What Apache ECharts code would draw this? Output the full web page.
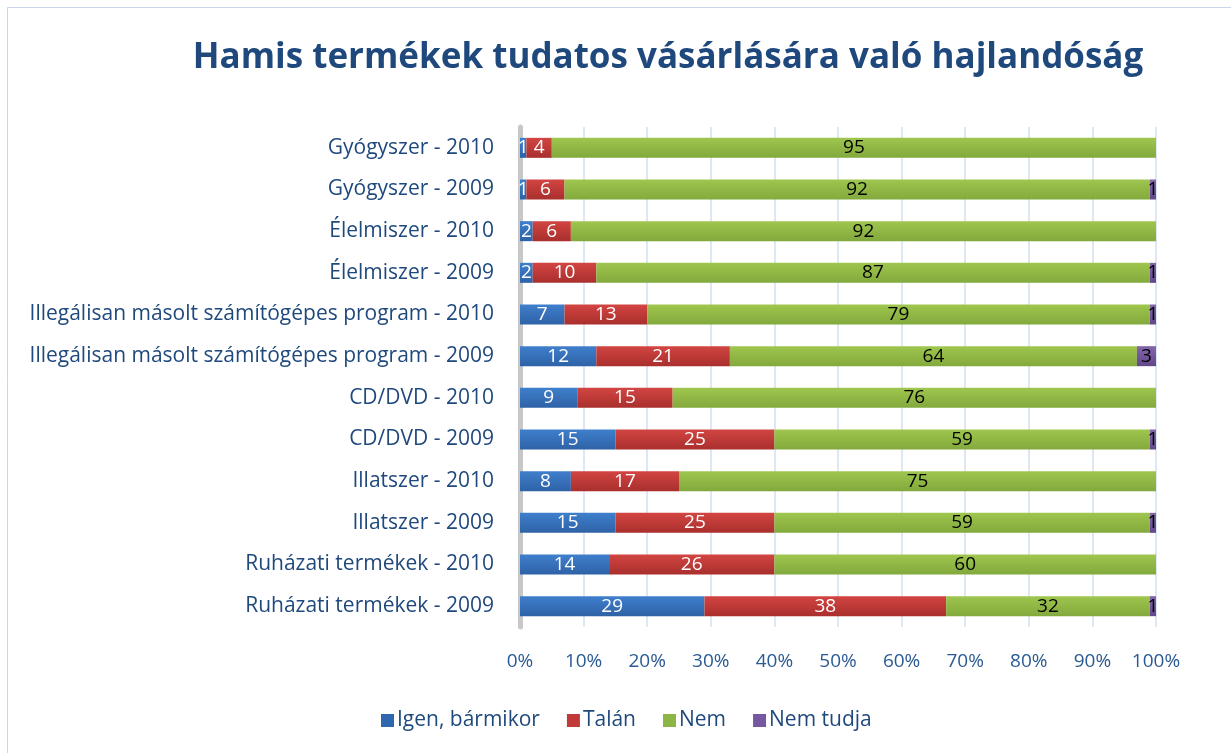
<!DOCTYPE html>
<html>
<head>
<meta charset="utf-8">
<script src="https://cdn.jsdelivr.net/npm/echarts@6/dist/echarts.min.js"></script>
<style>html,body{margin:0;padding:0;background:#fff}#c{width:1231px;height:753px}</style>
</head>
<body>
<div id="c"></div>
<script>
const categories = [
  'Ruházati termékek - 2009',
  'Ruházati termékek - 2010',
  'Illatszer - 2009',
  'Illatszer - 2010',
  'CD/DVD - 2009',
  'CD/DVD - 2010',
  'Illegálisan másolt számítógépes program - 2009',
  'Illegálisan másolt számítógépes program - 2010',
  'Élelmiszer - 2009',
  'Élelmiszer - 2010',
  'Gyógyszer - 2009',
  'Gyógyszer - 2010'
];
const igen = [29, 14, 15, 8, 15, 9, 12, 7, 2, 2, 1, 1];
const talan = [38, 26, 25, 17, 25, 15, 21, 13, 10, 6, 6, 4];
const nem = [32, 60, 59, 75, 59, 76, 64, 79, 87, 92, 92, 95];
const nemTudja = [1, 0, 1, 0, 1, 0, 3, 1, 1, 0, 1, 0];
const seriesNames = ['Igen, bármikor', 'Talán', 'Nem', 'Nem tudja'];
const tickLabels = ['0%', '10%', '20%', '30%', '40%', '50%', '60%', '70%', '80%', '90%', '100%'];

const FONT = '"Open Sans", Lato, sans-serif';
const DARK = '#1f497d';
function grad(a, b) {
  return new echarts.graphic.LinearGradient(0, 0, 0, 1, [
    {offset: 0, color: a}, {offset: 1, color: b}
  ]);
}
const styles = [
  {fill: grad('#3f7fcc', '#2e62a6'), label: '#ffffff', legend: '#2f68b0'},
  {fill: grad('#d24542', '#a92f2d'), label: '#ffffff', legend: '#c03a38'},
  {fill: grad('#9fc64e', '#82a93c'), label: '#000000', legend: '#8db546'},
  {fill: grad('#8466ad', '#62478a'), label: '#000000', legend: '#7558a0'}
];
const dataSets = [igen, talan, nem, nemTudja];

const chart = echarts.init(document.getElementById('c'), null, {renderer: 'canvas'});
chart.setOption({
  backgroundColor: '#ffffff',
  animation: false,
  title: {
    text: 'Hamis termékek tudatos vásárlására való hajlandóság',
    left: 663, textAlign: 'center', top: 36,
    textStyle: {fontFamily: FONT, fontSize: 35, fontWeight: 'bold', color: DARK}
  },
  graphic: [{
    type: 'rect', shape: {x: 7.5, y: 7.5, width: 1240, height: 760},
    style: {fill: 'none', stroke: '#c9d7e8', lineWidth: 1}, silent: true
  }],
  legend: {
    top: 705, left: 376,
    itemWidth: 13, itemHeight: 13, itemGap: 27,
    icon: 'rect',
    textStyle: {fontFamily: FONT, fontSize: 21, color: DARK, padding: [0, 0, 0, -2]},
    data: seriesNames.map((n, i) => ({name: n, itemStyle: {color: styles[i].legend}}))
  },
  grid: {left: 520, right: 75, top: 127, bottom: 126, containLabel: false},
  xAxis: {
    type: 'value', min: 0, max: 100, interval: 10,
    axisLine: {show: false}, axisTick: {show: false},
    splitLine: {show: true, lineStyle: {color: '#d3e0f0', width: 1.5}},
    axisLabel: {
      fontFamily: FONT, fontSize: 19, color: '#2a5a92', margin: 25,
      formatter: v => tickLabels[Math.round(v / 10)]
    }
  },
  yAxis: {
    type: 'category', data: categories,
    axisLine: {show: true, lineStyle: {color: '#c8c8c8', width: 5}},
    axisTick: {show: false},
    axisLabel: {fontFamily: FONT, fontSize: 21, color: DARK, margin: 26}
  },
  series: dataSets.map((d, i) => ({
    name: seriesNames[i], type: 'bar', stack: 'total', barWidth: 20,
    data: d,
    itemStyle: {color: styles[i].fill},
    label: {
      show: true, position: 'inside', color: styles[i].label,
      fontFamily: FONT, fontSize: 19,
      formatter: p => (p.value > 0 ? String(p.value) : '')
    }
  }))
});
</script>
</body>
</html>
